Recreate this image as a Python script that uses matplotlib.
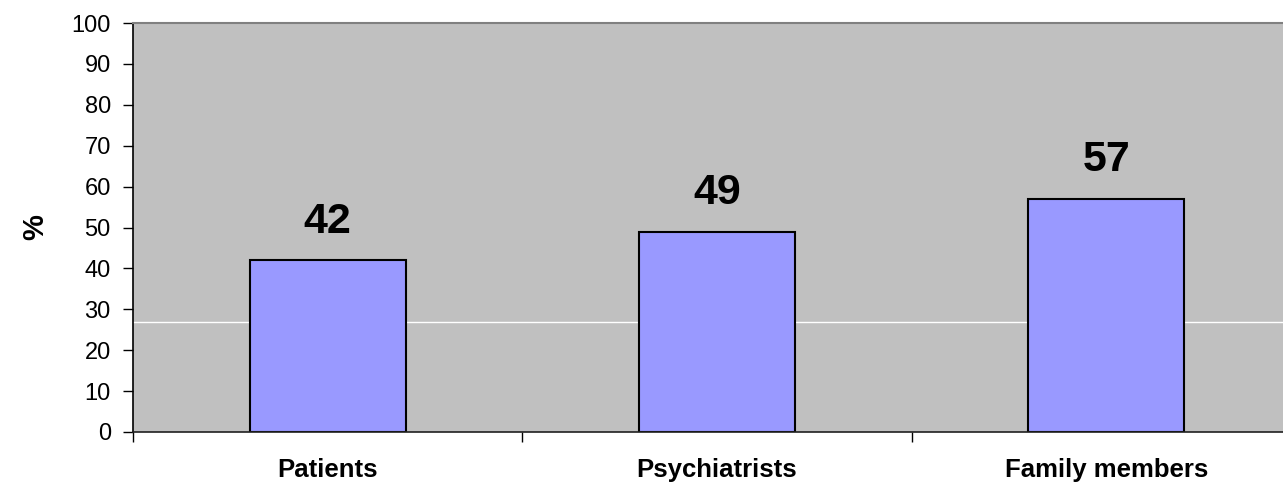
import numpy as np
from matplotlib import pyplot as plt

plt.rcParams.update({'font.family': 'Liberation Sans'})

groups = ['Patients', 'Psychiatrists', 'Family members']
percent = [42, 49, 57]
yticks = list(range(0, 101, 10))

fig = plt.figure(figsize=(12.83, 4.84), dpi=100)
# plot area runs past the right edge of the figure
ax = fig.add_axes([133/1283, 52/484, 1168/1283, 409/484])
ax.set_facecolor('#C0C0C0')

x = np.arange(len(groups))
ax.axhline(27, color='white', lw=1, zorder=1)
bars = ax.bar(x, percent, width=0.4, color='#9999FF', edgecolor='black',
              linewidth=1.5, zorder=2)
for xi, v in zip(x, percent):
    ax.text(xi, v + 4.5, str(v), ha='center', va='bottom',
            fontsize=31, fontweight='bold')

ax.set_xlim(-0.5, 2.5)
ax.set_ylim(0, 100)
ax.set_yticks(yticks)
ax.tick_params(axis='y', labelsize=17, length=7, width=1, pad=9)

# category labels at centers, tick marks at category boundaries
ax.set_xticks(x)
ax.set_xticklabels(groups, fontsize=18.5, fontweight='bold')
ax.tick_params(axis='x', which='major', length=0, pad=19)
ax.set_xticks(np.arange(-0.5, 3, 1), minor=True)
ax.tick_params(axis='x', which='minor', length=7, width=1)

ax.set_ylabel('%', fontsize=21, fontweight='bold', labelpad=16)

ax.spines['left'].set_color('black')
ax.spines['left'].set_linewidth(1.2)
ax.spines['bottom'].set_color('#202020')
ax.spines['bottom'].set_linewidth(1.2)
ax.spines['top'].set_color('#808080')
ax.spines['top'].set_linewidth(1.5)
ax.spines['right'].set_visible(False)

fig.savefig('out.png', dpi=100)
